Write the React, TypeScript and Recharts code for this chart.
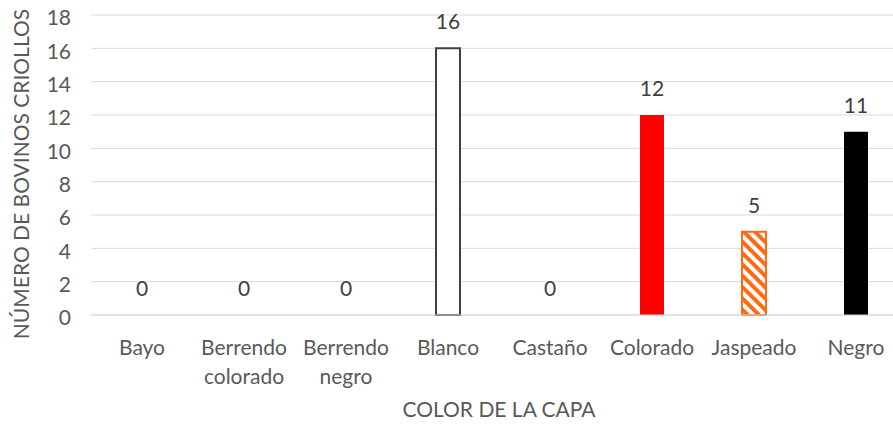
import React from "react";
import {
	Bar,
	BarChart,
	CartesianGrid,
	Cell,
	LabelList,
	Label,
	XAxis,
	YAxis,
} from "recharts";

const categories = [
	"Bayo",
	"Berrendo colorado",
	"Berrendo negro",
	"Blanco",
	"Castaño",
	"Colorado",
	"Jaspeado",
	"Negro",
];
const counts = [0, 0, 0, 16, 0, 12, 5, 11];
const yTicks = [0, 2, 4, 6, 8, 10, 12, 14, 16, 18];

const FONT = "Lato, 'Noto Sans', sans-serif";
const TEXT = "#595959";

// fill / outline per coat colour
const fills = ["none", "none", "none", "#fff", "none", "#ff0000", "url(#jaspeado)", "#000"];
const strokes = ["none", "none", "none", "#404040", "none", "none", "#ff6a13", "none"];

const data = categories.map((name, i) => ({ name, value: counts[i] }));

function CategoryTick(props: any) {
	const { x, y, payload } = props;
	const words = String(payload.value).split(" ");
	return (
		<text
			x={x}
			y={y}
			textAnchor="middle"
			fill={TEXT}
			fontSize={21}
			fontFamily={FONT}
		>
			{words.map((w, i) => (
				<tspan key={i} x={x} dy={i === 0 ? 32 : 29}>
					{w}
				</tspan>
			))}
		</text>
	);
}

// value above each bar, zero bars included
function ValueLabel(props: any) {
	const { x, y, width, value } = props;
	return (
		<text
			x={Number(x) + Number(width) / 2}
			y={Number(y) - 19}
			textAnchor="middle"
			fill="#404040"
			fontSize={21}
			fontFamily={FONT}
		>
			{value}
		</text>
	);
}

export default function App() {
	return (
		<div
			style={{
				position: "fixed",
				left: 0,
				top: 0,
				width: 893,
				height: 425,
				overflow: "hidden",
				background: "#fff",
			}}
		>
			<BarChart
				width={915}
				height={425}
				data={data}
				margin={{ top: 15, right: 8, bottom: 0, left: 0 }}
			>
				<defs>
					<pattern
						id="jaspeado"
						width="8"
						height="8"
						patternUnits="userSpaceOnUse"
						patternTransform="rotate(-45)"
					>
						<rect width="8" height="8" fill="#fff" />
						<rect width="4" height="8" fill="#ff6a13" />
					</pattern>
				</defs>
				<CartesianGrid vertical={false} stroke="#d9d9d9" />
				<XAxis
					dataKey="name"
					height={110}
					axisLine={{ stroke: "#d9d9d9" }}
					tickLine={false}
					interval={0}
					tick={<CategoryTick />}
				>
					<Label
						value="COLOR DE LA CAPA"
						position="insideBottom"
						offset={8}
						fill={TEXT}
						fontSize={21}
						fontFamily={FONT}
					/>
				</XAxis>
				<YAxis
					width={91}
					domain={[0, 18]}
					ticks={yTicks}
					axisLine={false}
					tickLine={false}
					tickSize={0}
					tickMargin={20}
					tick={{ fill: TEXT, fontSize: 21, fontFamily: FONT, dy: 3 }}
				>
					<Label
						content={() => (
							<text
								x={20}
								y={174}
								transform="rotate(-90 20 174)"
								textAnchor="middle"
								dominantBaseline="central"
								fill={TEXT}
								fontSize={21}
								fontFamily={FONT}
							>
								NÚMERO DE BOVINOS CRIOLLOS
							</text>
						)}
					/>
				</YAxis>
				<Bar
					dataKey="value"
					barSize={24}
					strokeWidth={2}
					minPointSize={0.01}
					isAnimationActive={false}
				>
					{data.map((d, i) => (
						<Cell key={d.name} fill={fills[i]} stroke={strokes[i]} />
					))}
					<LabelList dataKey="value" content={<ValueLabel />} />
				</Bar>
			</BarChart>
		</div>
	);
}
